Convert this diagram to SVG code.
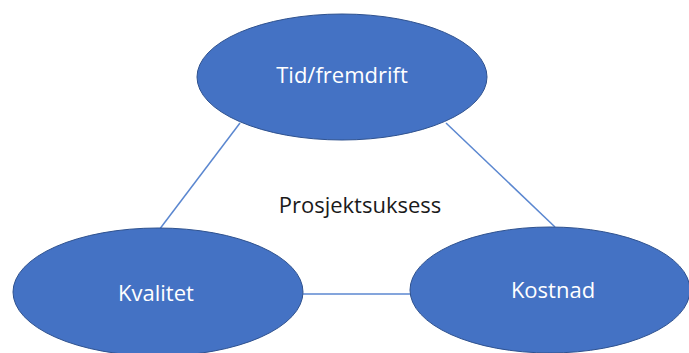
<svg xmlns="http://www.w3.org/2000/svg" width="689" height="353" viewBox="0 0 689 353">
  <style>
    .node { fill: #4472C4; stroke: #2F528F; stroke-width: 1; }
    .label { fill: #FFFFFF; font-family: "Open Sans", "Liberation Sans", sans-serif; font-size: 22px; text-anchor: middle; }
    .center { fill: #1A1A1A; font-family: "Open Sans", "Liberation Sans", sans-serif; font-size: 22px; text-anchor: middle; }
    .link { stroke: #5B87D0; stroke-width: 1.5; fill: none; }
  </style>
  <rect width="689" height="353" fill="#FFFFFF"/>
  <g id="connectors">
    <line class="link" x1="240" y1="123" x2="159" y2="230"/>
    <line class="link" x1="446" y1="123" x2="555" y2="227"/>
    <line class="link" x1="303" y1="294" x2="410" y2="294"/>
  </g>
  <g id="tid">
    <ellipse class="node" cx="342" cy="77" rx="145" ry="63"/>
    <text class="label" x="342" y="83">Tid/fremdrift</text>
  </g>
  <g id="kvalitet">
    <ellipse class="node" cx="158" cy="292" rx="145" ry="64"/>
    <text class="label" x="156" y="301">Kvalitet</text>
  </g>
  <g id="kostnad">
    <ellipse class="node" cx="550" cy="290" rx="140" ry="63"/>
    <text class="label" x="553" y="298">Kostnad</text>
  </g>
  <g id="prosjektsuksess">
    <text class="center" x="360" y="213">Prosjektsuksess</text>
  </g>
</svg>
